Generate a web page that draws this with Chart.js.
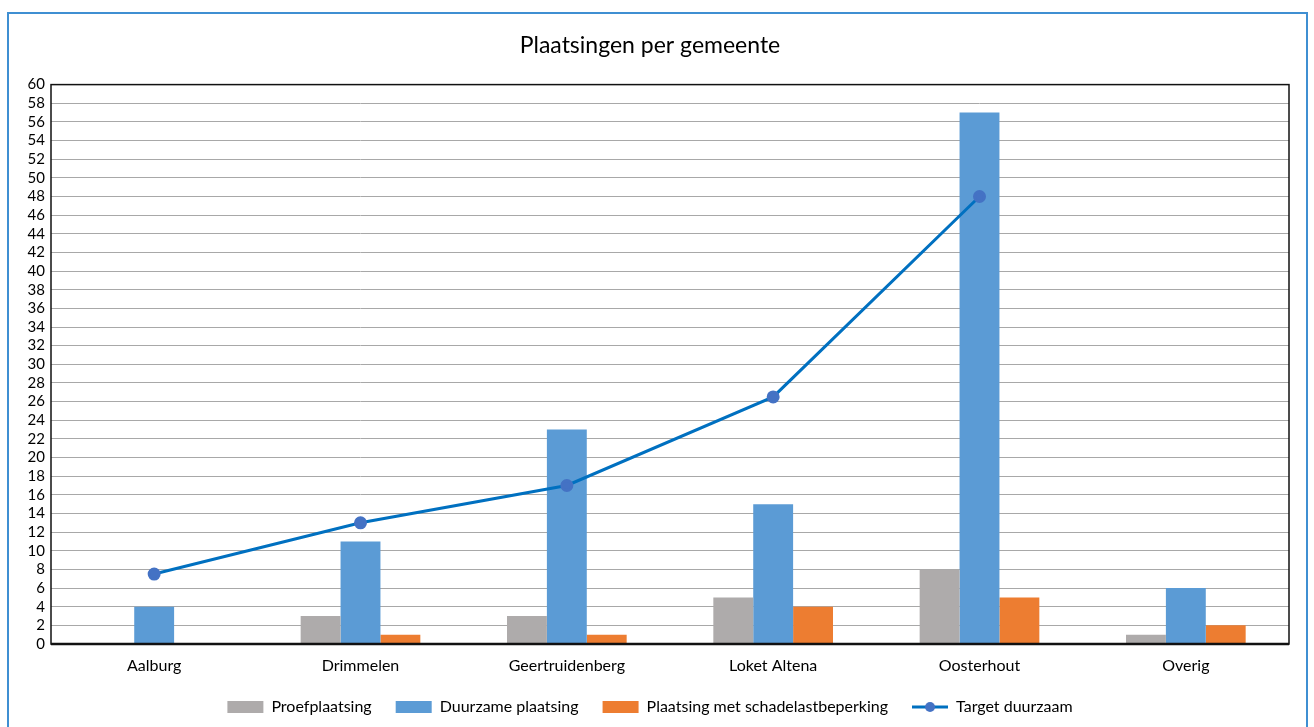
<!DOCTYPE html>
<html>
<head>
<meta charset="utf-8">
<script src="https://cdn.jsdelivr.net/npm/chart.js@4"></script>
<style>
  html, body { margin: 0; padding: 0; background: #fff; }
  #wrap { width: 1314px; height: 727px; }
</style>
</head>
<body>
<div id="wrap"><canvas id="chart" width="1314" height="727"></canvas></div>
<script>
const gemeenten = ['Aalburg', 'Drimmelen', 'Geertruidenberg', 'Loket Altena', 'Oosterhout', 'Overig'];
const proefplaatsing = [0, 3, 3, 5, 8, 1];
const duurzamePlaatsing = [4, 11, 23, 15, 57, 6];
const schadelastbeperking = [0, 1, 1, 4, 5, 2];
const targetDuurzaam = [7.5, 13, 17, 26.5, 48, null];
const yTicks = [0, 60, 2]; // min, max, step

const FONT = 'Lato, "Open Sans", sans-serif';

// little line-with-dot picture for the legend
function lineMarker() {
  const c = document.createElement('canvas');
  c.width = 36; c.height = 12;
  const g = c.getContext('2d');
  g.strokeStyle = '#0070C0';
  g.lineWidth = 3;
  g.beginPath(); g.moveTo(0, 6); g.lineTo(36, 6); g.stroke();
  g.fillStyle = '#4472C4';
  g.beginPath(); g.arc(18, 6, 5, 0, Math.PI * 2); g.fill();
  return c;
}
const marker = lineMarker();

// outer frame + black border round the plot area
const frames = {
  id: 'frames',
  afterDraw(chart) {
    const { ctx, chartArea: a } = chart;
    ctx.save();
    ctx.strokeStyle = '#3f8fd2';
    ctx.lineWidth = 2;
    ctx.beginPath();
    ctx.moveTo(8, 740); ctx.lineTo(8, 13); ctx.lineTo(1307, 13); ctx.lineTo(1307, 740);
    ctx.stroke();
    ctx.strokeStyle = '#111';
    ctx.lineWidth = 1.5;
    ctx.strokeRect(a.left, a.top, a.right - a.left, a.bottom - a.top);
    ctx.lineWidth = 2.5;
    ctx.beginPath(); ctx.moveTo(a.left, a.bottom); ctx.lineTo(a.right, a.bottom); ctx.stroke();
    ctx.restore();
  }
};

new Chart(document.getElementById('chart'), {
  type: 'bar',
  data: {
    labels: gemeenten,
    datasets: [
      { label: 'Proefplaatsing', data: proefplaatsing, backgroundColor: '#AEABAB', order: 1 },
      { label: 'Duurzame plaatsing', data: duurzamePlaatsing, backgroundColor: '#5B9BD5', order: 1 },
      { label: 'Plaatsing met schadelastbeperking', data: schadelastbeperking, backgroundColor: '#ED7D31', order: 1 },
      {
        type: 'line', label: 'Target duurzaam', data: targetDuurzaam, order: 0,
        borderColor: '#0070C0', borderWidth: 3, backgroundColor: '#4472C4',
        pointBackgroundColor: '#4472C4', pointBorderColor: '#4472C4',
        pointRadius: 5, tension: 0, spanGaps: false
      }
    ]
  },
  options: {
    responsive: false,
    animation: false,
    datasets: { bar: { categoryPercentage: 0.58, barPercentage: 1.0 } },
    layout: { padding: { left: 11, right: 25, top: 20, bottom: 2 } },
    plugins: {
      title: {
        display: true,
        text: 'Plaatsingen per gemeente',
        color: '#000',
        font: { family: FONT, size: 23, weight: 'normal' },
        padding: { top: 12, bottom: 25 }
      },
      legend: {
        position: 'bottom',
        labels: {
          color: '#000',
          font: { family: FONT, size: 16 },
          usePointStyle: true,
          pointStyleWidth: 36,
          boxHeight: 12,
          padding: 24,
          sort: (a, b) => a.datasetIndex - b.datasetIndex,
          generateLabels(chart) {
            const items = Chart.defaults.plugins.legend.labels.generateLabels(chart);
            items.forEach(it => {
              it.pointStyle = it.datasetIndex === 3 ? marker : 'rect';
              it.lineWidth = 0;
            });
            return items;
          }
        }
      },
      tooltip: { enabled: false }
    },
    scales: {
      x: {
        afterFit(scale) { scale.height = 31; },
        grid: { display: false },
        border: { display: false },
        ticks: { color: '#000', font: { family: FONT, size: 16 }, padding: 4 }
      },
      y: {
        min: yTicks[0], max: yTicks[1],
        afterFit(scale) { scale.width = 40; },
        grid: { color: '#a8a8a8', lineWidth: 1, drawTicks: false },
        border: { display: false },
        ticks: { stepSize: yTicks[2], autoSkip: false, color: '#000', font: { family: FONT, size: 15 }, padding: 6 }
      }
    }
  },
  plugins: [frames]
});
</script>
</body>
</html>
